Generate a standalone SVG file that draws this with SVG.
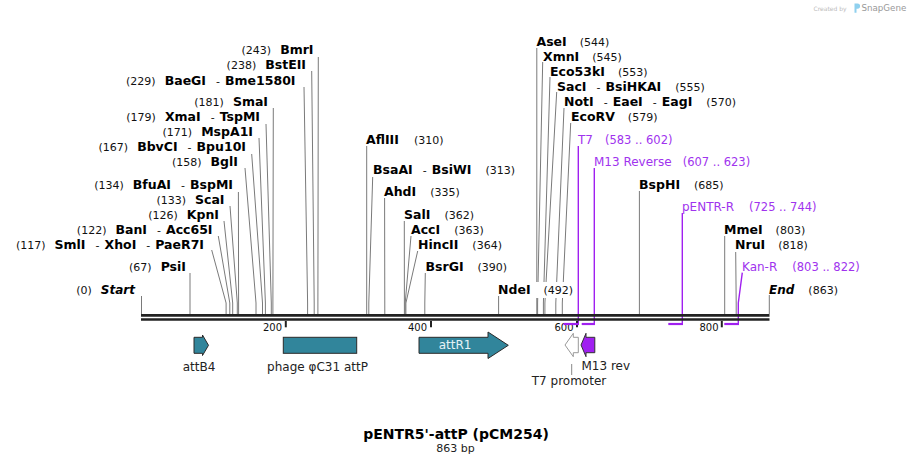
<svg xmlns="http://www.w3.org/2000/svg" width="911" height="464" viewBox="0 0 911 464">
<style>
text{font-family:"DejaVu Sans",Verdana,sans-serif;fill:#111}
.n{font-size:11px;font-weight:normal}
.b{font-size:12.5px;font-weight:bold;fill:#000}
.bi{font-size:12px;font-weight:bold;font-style:italic;fill:#000}
.pt{font-size:12px;fill:#a033ee}
.pn{font-size:11.5px;fill:#a033ee}
.tk{font-size:10px;fill:#111}
.fl{font-size:12px;fill:#222}
.cut{stroke:#7a7a7a;stroke-width:1;fill:none}
.pv{stroke:#a020f0;stroke-width:1.4;fill:none}
.ph{stroke:#a020f0;stroke-width:2.2;fill:none}
.teal{fill:#31859b;stroke:#2a2a2a;stroke-width:1}
</style>

<g id="connectors">
  <polyline class="cut" points="141.5,296 141.5,314"/>
  <polyline class="cut" points="190,273 190,314"/>
  <polyline class="cut" points="211.7,250 226.1,303 226.1,314"/>
  <polyline class="cut" points="218.3,236 229.8,303 229.8,314"/>
  <polyline class="cut" points="224,221 232.7,303 232.7,314"/>
  <polyline class="cut" points="230,206 237.3,303 237.3,314"/>
  <polyline class="cut" points="238.4,192 238.6,303 238.6,314"/>
  <polyline class="cut" points="245,168 256,303 256,314"/>
  <polyline class="cut" points="251.7,154 262.5,303 262.5,314"/>
  <polyline class="cut" points="259,138 265.4,303 265.4,314"/>
  <polyline class="cut" points="266,124 271.3,303 271.3,314"/>
  <polyline class="cut" points="273.3,108 272.9,303 272.9,314"/>
  <polyline class="cut" points="304,87 307.6,303 307.6,314"/>
  <polyline class="cut" points="311.7,71 314.2,303 314.2,314"/>
  <polyline class="cut" points="318.3,57 317.9,303 317.9,314"/>
  <polyline class="cut" points="366.7,146 366.7,314"/>
  <polyline class="cut" points="372.7,177 368.8,303 368.8,314"/>
  <polyline class="cut" points="384.6,198 384.8,314"/>
  <polyline class="cut" points="404.3,221 404.4,314"/>
  <polyline class="cut" points="411,236 405.2,303 405.2,314"/>
  <polyline class="cut" points="417.7,251 405.9,303 405.9,314"/>
  <polyline class="cut" points="425.3,273 424.8,303 424.8,314"/>
  <polyline class="cut" points="498.6,296 498.6,314"/>
  <polyline class="cut" points="536.8,48 536.8,314"/>
  <polyline class="cut" points="542.7,62 537.6,303 537.6,314"/>
  <polyline class="cut" points="550,77 543.4,303 543.4,314"/>
  <polyline class="cut" points="556.7,92 544.9,303 544.9,314"/>
  <polyline class="cut" points="564,108 555.8,303 555.8,314"/>
  <polyline class="cut" points="570.7,123 562.3,303 562.3,314"/>
  <polyline class="cut" points="639.4,191 639.4,314"/>
  <polyline class="cut" points="724.7,236 724.7,314"/>
  <polyline class="cut" points="735.7,252 736.2,303 736.2,314"/>
  <polyline class="cut" points="769.3,295 769.3,314"/>
  <polyline class="pv" points="578.3,146 578.3,324"/>
  <polyline class="pv" points="594.3,168 594.3,324"/>
  <polyline class="pv" points="682.3,213 682.3,324"/>
  <polyline class="pv" points="742.3,272.7 738.3,303 738.3,324"/>
  <line x1="571.7" y1="364" x2="571.7" y2="375" stroke="#888" stroke-width="1"/>
</g>

<g id="backbone">
  <line x1="141" y1="315.3" x2="769.5" y2="315.3" stroke="#222" stroke-width="2.7"/>
  <line x1="141" y1="319.5" x2="769.5" y2="319.5" stroke="#222" stroke-width="2.3"/>
  <line x1="285.8" y1="321" x2="285.8" y2="327.3" stroke="#222" stroke-width="2"/>
  <line x1="431" y1="321" x2="431" y2="327.3" stroke="#222" stroke-width="2"/>
  <line x1="577" y1="321" x2="577" y2="327.3" stroke="#222" stroke-width="2"/>
  <line x1="721.8" y1="321" x2="721.8" y2="327.3" stroke="#222" stroke-width="2"/>
  <text class="tk" x="282" y="331" text-anchor="end">200</text>
  <text class="tk" x="427" y="331" text-anchor="end">400</text>
  <text class="tk" x="573.5" y="331" text-anchor="end">600</text>
  <text class="tk" x="718.5" y="331" text-anchor="end">800</text>
</g>
<g id="primer-bars">
  <polyline class="ph" points="563.5,324 579,324"/>
  <polyline class="ph" points="581.7,324 595,324"/>
  <polyline class="ph" points="668.3,324 683,324"/>
  <polyline class="ph" points="724.3,324 739,324"/>
</g>

<g id="start"><text x="135" y="294" text-anchor="end"><tspan class="n">(0)</tspan><tspan class="bi" dx="9">Start</tspan></text></g>
<g id="PsiI"><text x="186" y="271" text-anchor="end"><tspan class="n">(67)</tspan><tspan class="b" dx="9">PsiI</tspan></text></g>
<g id="SmlI"><text x="204" y="249" text-anchor="end"><tspan class="n">(117)</tspan><tspan class="b" dx="9">SmlI</tspan><tspan class="n" dx="10">-</tspan><tspan class="b" dx="5">XhoI</tspan><tspan class="n" dx="10">-</tspan><tspan class="b" dx="5">PaeR7I</tspan></text></g>
<g id="BanI"><text x="212.5" y="234" text-anchor="end"><tspan class="n">(122)</tspan><tspan class="b" dx="9">BanI</tspan><tspan class="n" dx="10">-</tspan><tspan class="b" dx="5">Acc65I</tspan></text></g>
<g id="KpnI"><text x="219" y="219" text-anchor="end"><tspan class="n">(126)</tspan><tspan class="b" dx="9">KpnI</tspan></text></g>
<g id="ScaI"><text x="224.5" y="204" text-anchor="end"><tspan class="n">(133)</tspan><tspan class="b" dx="9">ScaI</tspan></text></g>
<g id="BfuAI"><text x="233" y="189" text-anchor="end"><tspan class="n">(134)</tspan><tspan class="b" dx="9">BfuAI</tspan><tspan class="n" dx="10">-</tspan><tspan class="b" dx="5">BspMI</tspan></text></g>
<g id="BglI"><text x="238" y="166" text-anchor="end"><tspan class="n">(158)</tspan><tspan class="b" dx="9">BglI</tspan></text></g>
<g id="BbvCI"><text x="246" y="151" text-anchor="end"><tspan class="n">(167)</tspan><tspan class="b" dx="9">BbvCI</tspan><tspan class="n" dx="10">-</tspan><tspan class="b" dx="5">Bpu10I</tspan></text></g>
<g id="MspA1I"><text x="253" y="136" text-anchor="end"><tspan class="n">(171)</tspan><tspan class="b" dx="9">MspA1I</tspan></text></g>
<g id="XmaI"><text x="260" y="121" text-anchor="end"><tspan class="n">(179)</tspan><tspan class="b" dx="9">XmaI</tspan><tspan class="n" dx="10">-</tspan><tspan class="b" dx="5">TspMI</tspan></text></g>
<g id="SmaI"><text x="268" y="106" text-anchor="end"><tspan class="n">(181)</tspan><tspan class="b" dx="9">SmaI</tspan></text></g>
<g id="BaeGI"><text x="295.5" y="85" text-anchor="end"><tspan class="n">(229)</tspan><tspan class="b" dx="9">BaeGI</tspan><tspan class="n" dx="10">-</tspan><tspan class="b" dx="5">Bme1580I</tspan></text></g>
<g id="BstEII"><text x="306" y="69" text-anchor="end"><tspan class="n">(238)</tspan><tspan class="b" dx="9">BstEII</tspan></text></g>
<g id="BmrI"><text x="313.5" y="54" text-anchor="end"><tspan class="n">(243)</tspan><tspan class="b" dx="9">BmrI</tspan></text></g>

<g id="AflIII"><text x="366" y="144"><tspan class="b">AflIII</tspan><tspan class="n" dx="15">(310)</tspan></text></g>
<g id="BsaAI"><text x="373" y="174"><tspan class="b">BsaAI</tspan><tspan class="n" dx="10">-</tspan><tspan class="b" dx="5">BsiWI</tspan><tspan class="n" dx="14">(313)</tspan></text></g>
<g id="AhdI"><text x="384" y="196"><tspan class="b">AhdI</tspan><tspan class="n" dx="14">(335)</tspan></text></g>
<g id="SalI"><text x="404" y="219"><tspan class="b">SalI</tspan><tspan class="n" dx="14">(362)</tspan></text></g>
<g id="AccI"><text x="411" y="234"><tspan class="b">AccI</tspan><tspan class="n" dx="14">(363)</tspan></text></g>
<g id="HincII"><text x="418" y="249"><tspan class="b">HincII</tspan><tspan class="n" dx="14">(364)</tspan></text></g>
<g id="BsrGI"><text x="425.5" y="271"><tspan class="b">BsrGI</tspan><tspan class="n" dx="14">(390)</tspan></text></g>
<g id="NdeI"><rect x="534" y="282" width="43" height="16" fill="#fff"/><text x="498" y="294"><tspan class="b">NdeI</tspan><tspan class="n" dx="13">(492)</tspan></text></g>
<g id="AseI"><text x="536.5" y="46"><tspan class="b">AseI</tspan><tspan class="n" dx="13">(544)</tspan></text></g>
<g id="XmnI"><text x="543" y="61"><tspan class="b">XmnI</tspan><tspan class="n" dx="13">(545)</tspan></text></g>
<g id="Eco53kI"><text x="550" y="76"><tspan class="b">Eco53kI</tspan><tspan class="n" dx="13">(553)</tspan></text></g>
<g id="SacI"><text x="557" y="91"><tspan class="b">SacI</tspan><tspan class="n" dx="10">-</tspan><tspan class="b" dx="5">BsiHKAI</tspan><tspan class="n" dx="14">(555)</tspan></text></g>
<g id="NotI"><text x="564" y="106"><tspan class="b">NotI</tspan><tspan class="n" dx="10">-</tspan><tspan class="b" dx="5">EaeI</tspan><tspan class="n" dx="10">-</tspan><tspan class="b" dx="5">EagI</tspan><tspan class="n" dx="14">(570)</tspan></text></g>
<g id="EcoRV"><text x="571" y="121"><tspan class="b">EcoRV</tspan><tspan class="n" dx="13">(579)</tspan></text></g>
<g id="BspHI"><text x="639" y="189"><tspan class="b">BspHI</tspan><tspan class="n" dx="14">(685)</tspan></text></g>
<g id="MmeI"><text x="724" y="234"><tspan class="b">MmeI</tspan><tspan class="n" dx="13">(803)</tspan></text></g>
<g id="NruI"><text x="735" y="249"><tspan class="b">NruI</tspan><tspan class="n" dx="13">(818)</tspan></text></g>
<g id="end"><text x="769" y="294"><tspan class="bi">End</tspan><tspan class="n" dx="14">(863)</tspan></text></g>

<g id="T7"><text x="578" y="144"><tspan class="pt">T7</tspan><tspan class="pn" dx="12">(583 .. 602)</tspan></text></g>
<g id="M13Reverse"><text x="594" y="166"><tspan class="pt">M13 Reverse</tspan><tspan class="pn" dx="11">(607 .. 623)</tspan></text></g>
<g id="pENTR-R"><text x="682" y="211"><tspan class="pt">pENTR-R</tspan><tspan class="pn" dx="15">(725 .. 744)</tspan></text></g>
<g id="Kan-R"><text x="742" y="271"><tspan class="pt">Kan-R</tspan><tspan class="pn" dx="15">(803 .. 822)</tspan></text></g>

<g id="attB4">
  <polygon class="teal" points="194,337.3 202.5,337.3 202.5,335 208.5,345.3 202.5,355.5 202.5,353.3 194,353.3"/>
  <text class="fl" x="199" y="371" text-anchor="middle">attB4</text>
</g>
<g id="attP">
  <rect class="teal" x="283.3" y="337.3" width="73.4" height="16"/>
  <text class="fl" x="317.5" y="371" text-anchor="middle">phage φC31 attP</text>
</g>
<g id="attR1">
  <polygon class="teal" points="419,337.3 488,337.3 488,332 508.3,345.3 488,358.5 488,353.3 419,353.3"/>
  <text x="455" y="349.3" text-anchor="middle" style="font-size:12px;fill:#e6f3f6">attR1</text>
</g>
<g id="T7promoter">
  <polygon points="578.3,337.3 573.3,337.3 573.3,333.3 565,345 573.3,356.7 573.3,352.7 578.3,352.7" fill="#fff" stroke="#999" stroke-width="1"/>
  <text class="fl" x="569" y="385" text-anchor="middle">T7 promoter</text>
</g>
<g id="M13rev">
  <polygon points="594.8,337.3 586,337.3 586,333.3 581,345 586,356.7 586,352.7 594.8,352.7" fill="#a020f0" stroke="#333" stroke-width="1"/>
  <text class="fl" x="581.5" y="370">M13 rev</text>
</g>

<g id="title">
  <text x="456" y="439" text-anchor="middle" style="font-size:14px;font-weight:bold;fill:#000">pENTR5'-attP (pCM254)</text>
  <text x="455.5" y="452" text-anchor="middle" style="font-size:11px;fill:#222">863 bp</text>
</g>

<g id="credit">
  <text x="846.5" y="10.5" text-anchor="end" style="font-size:6px;fill:#bbb">Created by</text>
  <path d="M854.5,3.5 h3 a2.6,2.6 0 0 1 0,5.2 h-1 v4 h-2 z" fill="#8fd0ee"/>
  <text x="861.5" y="11" style="font-size:8.7px;fill:#999">SnapGene</text>
</g>
</svg>
